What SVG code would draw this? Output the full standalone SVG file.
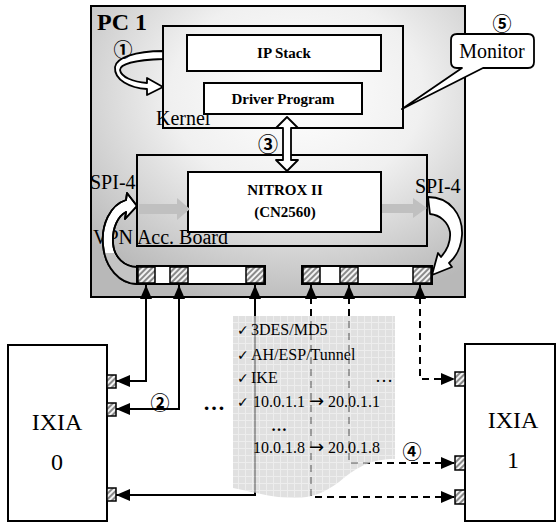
<svg xmlns="http://www.w3.org/2000/svg" width="560" height="522" viewBox="0 0 560 522">
<style>
.box{fill:none;stroke:#000;stroke-width:2}
.wbox{fill:#fff;stroke:#000;stroke-width:2}
.ser{font-family:"Liberation Serif","Times New Roman",serif;fill:#000}
.b{font-weight:bold}
.circ{font-family:"Noto Sans CJK SC","DejaVu Sans",sans-serif;font-weight:bold;fill:#000}
.port{fill:url(#hatch);stroke:#000;stroke-width:1.5}
.solid{fill:none;stroke:#000;stroke-width:2;marker-start:url(#ah);marker-end:url(#ah)}
.dash{fill:none;stroke:#000;stroke-width:2;stroke-dasharray:7,5;marker-start:url(#ah);marker-end:url(#ah)}
.ribbon{fill:#fff;stroke:#000;stroke-width:1.8;stroke-linejoin:round}
.gray{fill:#c4c4c4}
.note{font-family:"Liberation Serif","Times New Roman",serif;font-size:16px;fill:#000}
.ck{font-family:"DejaVu Sans",sans-serif;font-size:14px}
.ar{font-family:"DejaVu Sans",sans-serif;font-size:18px}
</style>
<defs>
<radialGradient id="pcg" cx="55%" cy="30%" r="75%">
<stop offset="0" stop-color="#ffffff"/>
<stop offset="0.45" stop-color="#f0f0f0"/>
<stop offset="1" stop-color="#b8b8b8"/>
</radialGradient>
<pattern id="hatch" width="4" height="4" patternUnits="userSpaceOnUse" patternTransform="rotate(45)">
<rect width="4" height="4" fill="#f4f4f4"/>
<rect width="2" height="4" fill="#8a8a8a"/>
</pattern>
<pattern id="grid" width="7" height="7" patternUnits="userSpaceOnUse">
<rect width="7" height="7" fill="#d4d4d4"/>
<path d="M0,0.5 H7 M0.5,0 V7" stroke="#e6e6e6" stroke-width="1"/>
</pattern>
<marker id="ah" viewBox="0 0 14 12" refX="14" refY="6" markerWidth="14" markerHeight="12" markerUnits="userSpaceOnUse" orient="auto-start-reverse">
<path d="M0,0 L14,6 L0,12 Z" fill="#000"/>
</marker>
</defs>

<g id="pc1">
<rect x="91" y="6" width="374" height="291" fill="url(#pcg)" stroke="#000" stroke-width="2"/>
<text class="ser b" x="97" y="30" font-size="24">PC 1</text>
</g>

<g id="kernel">
<rect class="box" x="163" y="26" width="240" height="102"/>
<text class="ser" x="156" y="125" font-size="20">Kernel</text>
</g>

<g id="ipstack">
<rect class="wbox" x="187" y="35" width="194" height="36"/>
<text class="ser b" x="284" y="58" font-size="15" text-anchor="middle">IP Stack</text>
</g>

<g id="driver">
<rect class="wbox" x="204" y="83" width="158" height="31"/>
<text class="ser b" x="283" y="104" font-size="15" text-anchor="middle">Driver Program</text>
</g>

<g id="loop1">
<path class="ribbon" d="M163,51 C135,51 116,58 115,67 C114,80 130,88 147,89 L147,95 L163,87 L147,78 L147,83 C133,82 121,77 120,70 C120,64 135,60 163,59 Z"/>
<text class="circ" x="123" y="57" font-size="19" text-anchor="middle">①</text>
</g>

<g id="vpnboard">
<rect class="box" x="137" y="155" width="290" height="91"/>
<text class="ser" x="93" y="244" font-size="20">VPN Acc. Board</text>
</g>

<g id="nitrox">
<rect class="wbox" x="188" y="172" width="193" height="60"/>
<text class="ser b" x="285" y="195" font-size="15" text-anchor="middle">NITROX II</text>
<text class="ser b" x="285" y="217" font-size="15" text-anchor="middle">(CN2560)</text>
</g>

<g id="spi4left">
<path d="M139,204 H177 V198 L190,209 L177,220 V214 H139 Z" fill="#c0c0c0"/>
<text class="ser" x="90" y="189" font-size="20">SPI-4</text>
<path class="ribbon" d="M137,206 L127,193 L126,200 C110,205 101,225 103,245 C105,268 120,284 137,284 L137,267 C125,267 114,258 113,243 C112,228 118,216 126,212 L125,219 Z"/>
<path class="gray" d="M104,253 C108,272 121,284 137,284 L137,267 C127,267 118,262 114,253 Z"/>
<path d="M137,206 L127,193 L126,200 C110,205 101,225 103,245 C105,268 120,284 137,284 L137,267 C125,267 114,258 113,243 C112,228 118,216 126,212 L125,219 Z" fill="none" stroke="#000" stroke-width="1.8" stroke-linejoin="round"/>
</g>

<g id="spi4right">
<path d="M382,204 H413 V198 L427,208 L413,218 V213 H382 Z" fill="#c0c0c0"/>
<text class="ser" x="415" y="193" font-size="20">SPI-4</text>
<path class="ribbon" d="M428,197 C450,197 463,215 462,235 C461,248 456,257 449,263 L452,267 L432,275 L438,253 L441,257 C447,250 451,242 450,232 C448,222 440,215 430,214 Z"/>
</g>

<g id="bar-left">
<rect class="wbox" x="137" y="266" width="128" height="18"/>
<rect class="port" x="138" y="267" width="17" height="16"/>
<rect class="port" x="170" y="267" width="18" height="16"/>
<rect class="port" x="246" y="267" width="18" height="16"/>
</g>

<g id="bar-right">
<rect class="wbox" x="302" y="266" width="130" height="18"/>
<rect class="port" x="303" y="267" width="17" height="16"/>
<rect class="port" x="340" y="267" width="18" height="16"/>
<rect class="port" x="413" y="267" width="18" height="16"/>
</g>

<g id="arrow3">
<path d="M287,117 L298,128 H291 V160 H298 L287,171 L276,160 H283 V128 H276 Z" fill="#fff" stroke="#000" stroke-width="1.8" stroke-linejoin="round"/>
<text class="circ" x="268" y="152" font-size="20" text-anchor="middle">③</text>
</g>

<g id="monitor">
<path d="M457,34 H528 Q534,34 534,40 V62 Q534,68 528,68 H483 L402,109 L462,68 H457 Q451,68 451,62 V40 Q451,34 457,34 Z" fill="#fff" stroke="#000" stroke-width="1.8" stroke-linejoin="round"/>
<text class="ser" x="492" y="58" font-size="20" text-anchor="middle">Monitor</text>
<text class="circ" x="502" y="31" font-size="19" text-anchor="middle">⑤</text>
</g>

<g id="ixia0">
<rect class="wbox" x="8" y="345" width="99" height="176"/>
<rect class="port" x="107" y="375" width="9" height="13"/>
<rect class="port" x="107" y="403" width="9" height="13"/>
<rect class="port" x="107" y="488" width="9" height="13"/>
<text class="ser" x="57" y="430" font-size="24" text-anchor="middle">IXIA</text>
<text class="ser" x="57" y="470" font-size="24" text-anchor="middle">0</text>
</g>

<g id="ixia1">
<rect class="wbox" x="465" y="344" width="90" height="177"/>
<rect class="port" x="455" y="372" width="10" height="14"/>
<rect class="port" x="455" y="456" width="10" height="14"/>
<rect class="port" x="455" y="490" width="10" height="14"/>
<text class="ser" x="513" y="428" font-size="24" text-anchor="middle">IXIA</text>
<text class="ser" x="513" y="468" font-size="24" text-anchor="middle">1</text>
</g>

<g id="connectors">
<path class="solid" d="M116,381 H146 V285"/>
<path class="solid" d="M116,409 H179 V285"/>
<path class="solid" d="M116,495 H255 V285"/>
<path class="dash" d="M311,285 V497 H455"/>
<path class="dash" d="M349,285 V463 H455"/>
<path class="dash" d="M420,285 V379 H455"/>
</g>

<g id="note">
<path d="M233,316 H395 V459 C372,459 360,466 345,477 C330,490 315,498 295,498 C270,498 255,492 233,488 Z" fill="url(#grid)" fill-opacity="0.72"/>
<text class="note" x="237" y="335"><tspan class="ck">✓</tspan><tspan x="251">3DES/MD5</tspan></text>
<text class="note" x="237" y="360"><tspan class="ck">✓</tspan><tspan x="251">AH/ESP/Tunnel</tspan></text>
<text class="note" x="237" y="383"><tspan class="ck">✓</tspan><tspan x="251">IKE</tspan></text>
<text class="note" x="237" y="407"><tspan class="ck">✓</tspan><tspan x="253">10.0.1.1 </tspan><tspan class="ar">→</tspan><tspan> 20.0.1.1</tspan></text>
<text class="ser b" x="279" y="431" font-size="16" text-anchor="middle">…</text>
<text class="note" x="253" y="453">10.0.1.8 <tspan class="ar">→</tspan> 20.0.1.8</text>
</g>

<g id="labels">
<text class="circ" x="160" y="410" font-size="19" text-anchor="middle">②</text>
<text class="circ" x="412" y="459" font-size="19" text-anchor="middle">④</text>
<text class="ser b" x="214" y="410" font-size="22" text-anchor="middle">…</text>
<text class="ser" x="384" y="382" font-size="18" fill="#555" text-anchor="middle">…</text>
</g>
</svg>
